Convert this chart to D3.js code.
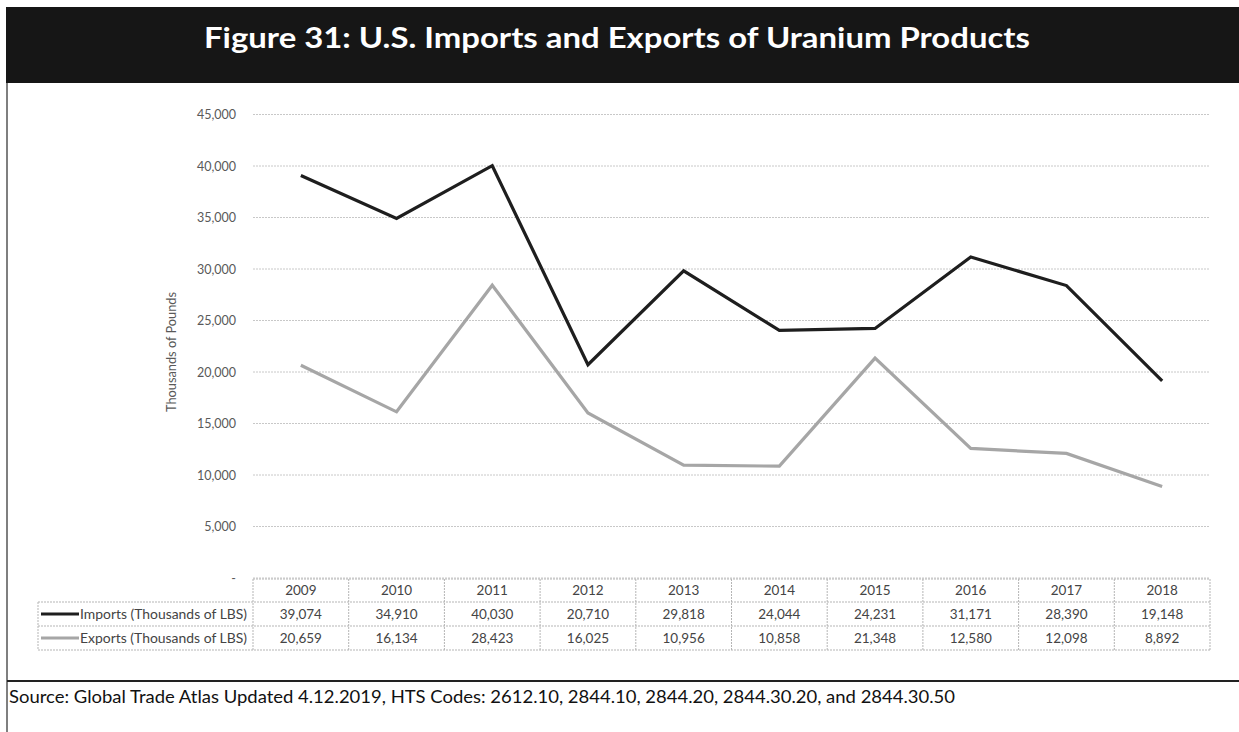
<!DOCTYPE html>
<html><head><meta charset="utf-8">
<script src="https://cdn.jsdelivr.net/npm/d3@7"></script>
<style>body{margin:0;background:#fff}svg{display:block}</style>
</head><body><svg id="c" width="1239" height="732"></svg>
<script>
const years = ["2009","2010","2011","2012","2013","2014","2015","2016","2017","2018"];
const imports = [39074,34910,40030,20710,29818,24044,24231,31171,28390,19148];
const exports_ = [20659,16134,28423,16025,10956,10858,21348,12580,12098,8892];
const seriesNames = ["Imports (Thousands of LBS)","Exports (Thousands of LBS)"];
const yTicks = [0,5000,10000,15000,20000,25000,30000,35000,40000,45000];

const svg = d3.select("#c");
const font = "Lato, 'Open Sans', sans-serif";

// Title band
svg.append("rect").attr("x",6).attr("y",7).attr("width",1233).attr("height",76).attr("fill","#161616");
svg.append("text").attr("x",617).attr("y",48).attr("text-anchor","middle")
  .attr("font-family",font).attr("font-weight","bold").attr("font-size",29)
  .attr("fill","#fff").attr("textLength",826).attr("lengthAdjust","spacingAndGlyphs")
  .text("Figure 31: U.S. Imports and Exports of Uranium Products");

// frame lines
svg.append("line").attr("x1",7).attr("x2",7).attr("y1",83).attr("y2",732).attr("stroke","#555").attr("stroke-width",1.5);
svg.append("line").attr("x1",7).attr("x2",1239).attr("y1",681).attr("y2",681).attr("stroke","#222").attr("stroke-width",2);

const x = d3.scaleBand().domain(years).range([253,1210]);
const y = d3.scaleLinear().domain([0,45000]).range([578,114.5]);

// gridlines
svg.append("g").selectAll("line").data(yTicks).join("line")
  .attr("x1",253).attr("x2",1210).attr("y1",d=>y(d)).attr("y2",d=>y(d))
  .attr("stroke","#c8c8c8").attr("stroke-width",1).attr("stroke-dasharray","2,1");

// y axis
const yAxis = d3.axisLeft(y).tickValues(yTicks).tickSize(0).tickPadding(0)
  .tickFormat(d=> d===0 ? "-" : d3.format(",")(d));
const ya = svg.append("g").attr("transform","translate(236,0)").call(yAxis);
ya.select(".domain").remove();
ya.selectAll("text").attr("font-family",font).attr("font-size",12.5).attr("fill","#595959").attr("dy","0.35em");

svg.append("text").attr("transform","translate(176,352) rotate(-90)").attr("text-anchor","middle")
  .attr("font-family",font).attr("font-size",13).attr("fill","#595959")
  .attr("textLength",120).attr("lengthAdjust","spacingAndGlyphs").text("Thousands of Pounds");

// lines
const line = d3.line().x((d,i)=>x(years[i])+x.bandwidth()/2).y(d=>y(d));
svg.append("path").datum(exports_).attr("d",line).attr("fill","none").attr("stroke","#a6a6a6").attr("stroke-width",3.2).attr("stroke-linejoin","miter");
svg.append("path").datum(imports).attr("d",line).attr("fill","none").attr("stroke","#1e1e1e").attr("stroke-width",3.2).attr("stroke-linejoin","miter");

// data table
const rowY = [579,602,626,650];
const tg = svg.append("g");
const border = {stroke:"#b5b5b5","stroke-width":1,"stroke-dasharray":"2,1"};
function bl(x1,y1,x2,y2){const l=tg.append("line").attr("x1",x1).attr("y1",y1).attr("x2",x2).attr("y2",y2);for(const k in border)l.attr(k,border[k]);}
bl(253,rowY[0],1210,rowY[0]);
bl(38,rowY[1],1210,rowY[1]);
bl(38,rowY[2],1210,rowY[2]);
bl(38,rowY[3],1210,rowY[3]);
bl(38,rowY[1],38,rowY[3]);
years.forEach(yr=>bl(x(yr),rowY[0],x(yr),rowY[3]));
bl(1210,rowY[0],1210,rowY[3]);

const cellText = (tx,ty,t,anchor)=>tg.append("text").attr("x",tx).attr("y",ty).attr("text-anchor",anchor||"middle")
  .attr("font-family",font).attr("font-size",13.5).attr("fill","#444").attr("dy","0.35em").text(t);
years.forEach((yr,i)=>{
  const cx = x(yr)+x.bandwidth()/2;
  cellText(cx,(rowY[0]+rowY[1])/2,yr);
  cellText(cx,(rowY[1]+rowY[2])/2,d3.format(",")(imports[i]));
  cellText(cx,(rowY[2]+rowY[3])/2,d3.format(",")(exports_[i]));
});
const keyColors = ["#1e1e1e","#a6a6a6"];
[0,1].forEach(r=>{
  const cy=(rowY[r+1]+rowY[r+2])/2;
  tg.append("line").attr("x1",41).attr("x2",79).attr("y1",cy).attr("y2",cy).attr("stroke",keyColors[r]).attr("stroke-width",3);
  cellText(80,cy,seriesNames[r],"start").attr("textLength",167).attr("lengthAdjust","spacingAndGlyphs");
});

// source
svg.append("text").attr("x",9).attr("y",703).attr("font-family",font).attr("font-size",17).attr("fill","#111")
  .attr("textLength",946).attr("lengthAdjust","spacingAndGlyphs")
  .text("Source: Global Trade Atlas Updated 4.12.2019, HTS Codes: 2612.10, 2844.10, 2844.20, 2844.30.20, and 2844.30.50");
</script></body></html>
